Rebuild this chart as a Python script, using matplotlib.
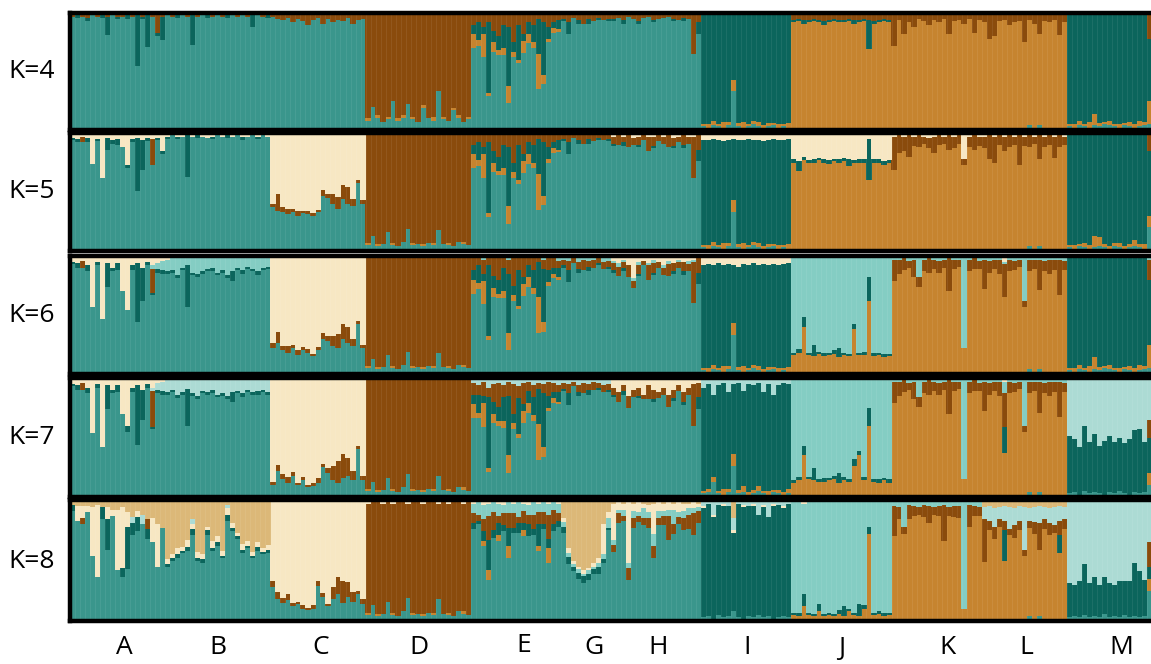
import sys
import numpy as np
import matplotlib
matplotlib.use('Agg')
import matplotlib.pyplot as plt
from matplotlib.transforms import blended_transform_factory

W, H = 1151, 664

# ---------------- data ----------------
pops = ['A', 'B', 'C', 'D', 'E', 'G', 'H', 'I', 'J', 'K', 'L', 'M']
n_ind = [19, 21, 19, 21, 18, 10, 18, 18, 20, 18, 17, 17]

colors = {'T': '#3a968c', 'DT': '#0b655c', 'BR': '#8a4b0c', 'OR': '#c6842f',
          'CR': '#f7e7c3', 'LT': '#84cdc3', 'LT2': '#acdbd4', 'TN': '#dcb878'}

# membership (%) of minor clusters per individual; the main cluster takes the rest
# --- K=4
A4_BR = [3,2,3,4,2,3,2,3,2,3,3,2,3,2,3,2,3,17,3]
A4_DT = [0,2,0,3,0,0,2,16,0,2,0,3,0,43,2,27,0,3,20]
B4_BR = [2,3,2,2,3,2,3,2,2,3,2,3,2,2,3,2,3,2,2,3,2]
B4_DT = [0,0,2,0,0,25,0,0,2,0,0,0,2,0,0,0,0,10,0,0,2]
C4_BR = [3,5,6,4,8,5,7,10,6,4,9,5,8,6,7,4,9,6,5]
D4_T = [8,20,10,7,9,25,8,10,22,9,7,19,10,8,33,9,8,17,10,7,9]
D4_OR = [2,0,3,0,2,0,2,3,0,2,0,2,0,3,0,2,0,2,3,0,2]
E_BR = [10,8,12,8,15,20,10,12,25,10,18,8,10,5,8,12,8,6]
E_DT = [8,15,6,60,10,12,20,50,8,30,6,10,15,30,45,10,5,8]
E_OR = [12,5,20,3,8,4,6,15,5,3,10,8,5,30,8,3,4,2]
G_BR = [5,8,4,6,9,5,7,4,6,5]
G_DT = [2,10,0,3,0,4,0,2,0,2]
H4_BR = [5,4,6,3,5,7,4,3,6,5,4,3,5,6,4,5,35,8]
H_DT = [2,0,3,0,0,2,0,0,2,0,0,0,2,0,3,0,0,10]
I_T = [3,2,4,3,2,4,33,3,2,3,5,3,2,3,4,2,3,2]
I_OR = [2,3,4,2,5,3,10,3,5,2,3,4,2,3,2,3,2,4]
J4_BR = [6,5,6,6,5,6,7,6,5,6,6,5,6,6,5,6,7,6,5,6]
J4_DT = [2,2,3,2,2,2,3,2,2,2,2,2,3,2,2,25,2,2,2,2]
K4_BR = [28,6,18,8,12,5,7,10,6,8,5,18,7,6,9,5,17,6]
L4_BR = [8,22,20,7,6,10,8,7,25,6,9,18,7,8,6,19,8]
L_T = [0,0,0,0,0,0,0,0,0,4,0,4,0,0,0,0,0]
M_T = [3,2,4,3,2,4,3,5,4,3,2,4,3,2,3,4,5]
M_OR = [2,3,4,2,5,10,3,2,4,2,3,2,4,3,5,3,20]
M4_BR = [0,0,0,0,0,0,0,0,0,0,0,0,0,0,0,0,22]
# --- K=5
A5_CR = [4,5,3,4,26,5,38,4,6,5,12,27,5,4,6,4,5,4,15]
A5_DT = [2,3,0,4,0,2,0,10,3,5,0,3,3,45,25,3,0,2,3]
A5_BR = [0,0,5,0,0,0,0,0,0,0,0,0,0,0,0,0,22,0,0]
B5_CR = [3,2,3,3,2,3,2,3,4,3,2,3,2,3,2,3,3,2,3,2,3]
B5_DT = [2,0,2,0,35,0,2,0,0,2,0,0,2,0,0,3,0,0,2,0,0]
C5_T = [37,34,33,31,33,30,32,31,30,33,47,45,40,36,44,40,38,58,40]
C5_BR = [3,14,4,5,3,4,2,3,2,2,5,3,8,10,12,14,6,2,3]
D5_T = [5,13,4,6,16,5,4,8,19,5,6,4,7,5,18,6,5,4,8,6,5]
D5_OR = [2,0,2,0,0,2,0,0,0,2,0,2,0,2,0,0,2,0,0,2,0]
H5_BR = [6,8,5,10,6,7,4,12,8,5,6,10,7,5,8,6,35,12]
H5_CR = [3,2,3,2,4,3,2,3,3,2,3,2,4,3,2,3,3,2]
I5_CR = [6,6,5,6,7,6,5,6,6,5,6,6,7,6,5,6,6,5]
J5_CR = [22,24,20,23,22,21,22,23,22,22,21,22,23,22,22,5,22,22,24,23]
J5_DT = [3,8,3,2,3,2,3,3,2,3,3,6,2,3,3,35,3,3,3,2]
K5_BR = [28,15,12,18,8,10,6,9,14,8,6,12,10,7,5,9,12,8]
K5_CR = [3,2,3,2,3,2,3,4,3,2,3,2,3,2,22,3,2,3]
L5_BR = [10,20,22,8,12,10,7,25,8,10,6,20,9,8,18,10,7]
L5_CR = [3,2,3,2,3,2,3,2,3,2,3,2,3,2,3,2,3]
M5_T = [3,2,4,3,2,3,4,3,2,4,3,2,3,4,3,2,20]
M5_OR = [2,3,2,4,3,10,8,3,2,3,4,2,3,5,3,4,10]
M5_BR = [0,0,0,0,0,0,0,0,0,0,0,0,0,0,0,0,15]
# --- K=6
A6_CR = [5,6,4,8,43,5,53,6,10,6,30,46,8,6,10,5,8,6,4]
A6_DT = [2,4,0,5,0,3,0,20,3,6,0,0,4,50,28,3,2,3,3]
A6_BR = [0,0,6,0,0,0,0,0,0,0,0,0,0,0,0,0,20,0,0]
A6_LT = [0,0,0,0,0,0,0,0,0,0,0,0,0,0,0,0,3,5,8]
B6_LT = [10,12,14,10,8,12,15,13,11,10,14,12,16,13,10,12,9,11,13,10,9]
B6_DT = [2,2,3,2,35,2,3,2,2,3,2,2,3,8,2,3,2,2,3,2,2]
B6_CR = [3,0,2,0,0,2,0,0,0,0,0,0,0,0,0,0,0,0,0,0,0]
C6_T = [22,26,20,18,22,16,20,18,15,20,30,28,24,22,30,26,24,42,22]
C6_BR = [4,10,4,6,3,4,3,3,2,3,5,4,8,12,12,14,6,3,3]
E6_LT = [2,0,3,0,2,0,0,3,0,2,0,0,2,0,3,0,2,4]
G6_LT = [3,4,2,5,3,4,3,2,5,4]
H6_CR = [4,6,3,8,19,5,4,6,3,5,8,4,6,3,5,4,3,2]
H6_LT = [2,3,2,0,2,3,0,2,3,0,2,3,0,2,0,3,2,0]
I6_CR = [8,7,8,6,8,7,8,9,7,8,6,8,7,8,7,8,7,6]
J6_OR = [16,18,40,16,15,17,15,16,17,14,16,15,38,16,16,62,15,16,14,15]
J6_DT = [2,3,8,2,10,2,3,2,3,8,2,2,4,2,3,20,3,2,3,2]
K6_BR = [18,12,10,6,15,8,10,12,8,10,7,28,8,6,0,10,9,7]
K6_LT = [3,3,2,4,3,18,3,2,3,4,3,2,3,3,78,3,2,4]
L6_BR = [25,10,8,12,28,10,8,6,5,10,8,26,9,12,9,30,8]
L6_LT = [3,4,3,3,2,3,4,3,38,3,3,3,4,3,3,3,4]
L6_CR = [0,0,0,0,5,0,0,0,0,0,0,0,0,0,0,0,0]
M6_BR = [0,0,0,0,0,0,0,0,0,0,0,0,0,0,0,0,17]
M6_LT = [2,0,2,0,0,2,0,0,2,0,0,2,0,0,2,0,3]
# --- K=7
A7_CR = [5,6,4,8,46,5,58,6,10,6,30,40,8,6,10,5,8,4,3]
A7_DT = [2,4,0,5,0,3,0,20,3,6,0,5,4,50,25,3,2,3,3]
A7_BR = [0,0,6,0,0,0,0,0,0,0,0,0,0,0,0,0,30,0,0]
A7_LT2 = [0,0,0,0,0,0,0,0,0,0,0,0,0,0,0,0,3,6,8]
B7_LT2 = [12,10,14,12,9,13,15,11,12,10,14,13,15,12,11,13,10,12,11,10,12]
B7_DT = [2,2,3,2,31,2,3,2,2,3,2,2,3,8,2,3,2,2,3,2,2]
C7_T = [10,22,15,12,18,10,14,8,9,12,25,20,14,12,16,18,14,40,14]
C7_BR = [3,5,4,5,3,2,3,2,3,4,3,4,12,18,20,15,8,3,4]
E7_LT2 = [4,6,3,8,5,4,6,3,5,7,4,3,6,4,5,3,4,6]
G7_LT2 = [4,5,3,6,4,5,3,4,6,5]
H7_CR = [8,12,6,15,10,8,14,6,10,12,8,14,10,6,12,8,5,4]
I7_LT2 = [8,5,14,6,4,12,5,4,11,5,6,4,12,5,14,6,4,5]
I7_T = [3,4,13,3,2,4,26,3,4,2,3,5,3,2,4,3,2,3]
J7_OR = [12,14,35,15,14,13,13,14,15,12,14,13,26,35,14,60,13,12,14,12]
J7_DT = [2,3,8,2,10,2,3,2,3,8,3,2,6,4,3,15,2,3,2,3]
K7_LT = [3,3,2,4,3,16,3,2,3,4,3,2,3,3,85,3,2,4]
L7_LT = [3,4,3,3,10,3,4,3,40,3,3,3,4,3,3,3,4]
L7_DT = [0,0,0,0,22,0,0,0,0,0,0,0,0,0,0,0,0]
L7_CR = [0,0,0,0,3,0,0,0,0,0,0,0,0,0,0,0,0]
M7_DT = [48,45,40,55,43,49,40,45,47,43,45,42,47,52,54,42,30]
M7_T = [3,4,2,5,3,4,3,2,4,3,5,3,2,4,3,4,10]
M7_OR = [0,0,0,0,0,0,0,0,0,0,0,0,0,0,0,0,10]
M7_BR = [0,0,0,0,0,0,0,0,0,0,0,0,0,0,0,0,15]
# --- K=8
A8_DT = [5,0,0,0,0,0,10,25,0,0,8,35,10,12,0,8,0,0,0]
A8_BR = [0,0,5,0,0,0,0,0,0,0,0,0,0,0,0,8,0,0,0]
A8_CR = [0,12,10,5,40,60,0,10,5,50,50,12,0,5,0,0,20,35,0]
A8_TN = [4,5,5,5,6,4,6,6,8,8,6,10,14,9,12,16,15,20,23]
A8_LT2 = [0,0,0,0,0,0,0,0,0,0,0,0,5,0,8,0,0,0,0]
B8_T = [45,50,52,56,58,71,50,48,71,58,62,52,83,74,68,56,60,52,58,55,56]
B8_DT = [2,2,3,2,3,5,2,3,4,2,3,2,5,3,2,3,2,2,3,2,3]
B8_CR = [4,3,5,3,6,4,5,4,3,6,5,4,5,4,3,5,4,3,4,3,4]
B8_LT2 = [0,0,0,0,0,4,0,0,0,0,0,0,3,0,0,0,0,0,0,0,0]
C8_T = [28,18,15,17,12,14,10,9,10,29,20,12,18,22,15,20,16,22,14]
C8_BR = [5,6,4,5,3,2,3,2,3,4,3,2,10,14,18,12,8,3,4]
C8_TN = [2,0,2,0,0,2,0,0,0,2,0,0,0,2,0,0,0,0,2]
D8_CR = [3,2,0,3,2,3,0,2,3,2,0,3,2,0,3,2,3,0,2,3,2]
E8_DT = [5,3,8,25,6,10,5,15,4,8,6,10,5,18,4,8,6,5]
E8_OR = [0,0,4,8,0,5,0,10,0,0,5,0,0,4,0,12,0,0]
E8_BR = [8,5,10,20,15,6,10,12,12,5,10,8,12,10,10,20,12,6]
E8_LT = [8,10,12,10,8,10,7,9,8,12,6,8,10,7,8,9,6,8]
E8_CR = [3,2,4,3,2,3,4,2,3,2,3,4,2,3,2,3,2,3]
G8_TN = [15,40,50,55,58,56,52,48,20,10]
G8_DT = [5,6,4,5,6,5,4,6,3,2]
G8_CR = [3,4,3,2,3,2,3,4,25,5]
G8_LT = [4,3,2,3,2,3,2,3,4,8]
H8_CR = [30,6,5,50,6,8,4,6,25,7,6,6,5,8,6,4,5,3]
H8_BR = [6,8,4,10,8,5,6,8,10,6,8,20,8,6,10,12,18,10]
H8_LT = [4,3,5,4,6,3,8,5,10,6,4,5,12,4,6,5,4,3]
H8_TN = [3,2,3,2,3,2,3,4,3,2,3,2,3,2,3,3,2,3]
I8_LT2 = [5,3,12,4,3,5,10,3,4,5,3,12,4,14,3,4,5,3]
I8_TN = [0,0,0,0,0,0,15,0,0,0,0,0,0,0,0,0,0,0]
I8_T = [3,4,2,5,3,4,8,3,2,4,3,5,3,4,2,3,4,3]
I8_CR = [2,0,2,0,2,0,2,0,2,0,2,0,2,0,2,0,2,0]
J8_OR = [5,4,12,5,4,8,4,5,4,6,4,8,5,4,10,72,5,6,4,5]
J8_DT = [2,3,10,2,2,6,2,2,2,3,8,2,2,10,3,6,2,2,3,2]
J8_CR = [2,0,3,0,2,0,0,2,0,0,0,2,0,0,0,0,0,0,2,0]
K8_BR = [25,10,6,12,8,6,10,14,6,8,30,7,9,10,0,18,8,7]
K8_LT = [5,6,22,4,5,6,4,5,6,5,4,6,5,5,90,4,5,6]
L8_TN = [6,5,7,6,5,6,7,5,6,7,6,5,6,7,6,5,6]
L8_LT2 = [10,12,15,10,12,18,14,12,35,10,12,14,10,12,15,12,10]
L8_BR = [35,8,10,6,8,5,10,8,5,6,10,22,8,10,6,12,8]
L8_DT = [0,0,0,0,25,0,0,0,0,0,0,0,0,0,0,15,0]
M8_DT = [28,26,30,42,28,32,27,30,28,26,30,28,30,44,38,30,10]
M8_T = [3,4,3,5,3,4,3,6,3,4,3,5,3,4,3,4,25]
M8_OR = [0,0,0,0,0,0,0,0,0,0,0,0,0,0,0,0,10]
M8_BR = [0,0,0,0,0,0,0,0,0,0,0,0,0,0,0,0,20]

# ---------------- panel tables ----------------
panels = [
    ('K=4', ['T', 'OR', 'DT', 'BR'],
     ['T', 'T', 'T', 'BR', 'T', 'T', 'T', 'DT', 'OR', 'OR', 'OR', 'DT'],
     [dict(BR=A4_BR, DT=A4_DT), dict(BR=B4_BR, DT=B4_DT), dict(BR=C4_BR),
      dict(T=D4_T, OR=D4_OR), dict(BR=E_BR, DT=E_DT, OR=E_OR),
      dict(BR=G_BR, DT=G_DT), dict(BR=H4_BR, DT=H_DT), dict(T=I_T, OR=I_OR),
      dict(BR=J4_BR, DT=J4_DT), dict(BR=K4_BR), dict(BR=L4_BR, T=L_T),
      dict(T=M_T, OR=M_OR, BR=M4_BR)]),
    ('K=5', ['T', 'OR', 'DT', 'BR', 'CR'],
     ['T', 'T', 'CR', 'BR', 'T', 'T', 'T', 'DT', 'OR', 'OR', 'OR', 'DT'],
     [dict(CR=A5_CR, DT=A5_DT, BR=A5_BR), dict(CR=B5_CR, DT=B5_DT),
      dict(T=C5_T, BR=C5_BR), dict(T=D5_T, OR=D5_OR),
      dict(BR=E_BR, DT=E_DT, OR=E_OR), dict(BR=G_BR, DT=G_DT),
      dict(BR=H5_BR, CR=H5_CR, DT=H_DT), dict(T=I_T, OR=I_OR, CR=I5_CR),
      dict(CR=J5_CR, DT=J5_DT), dict(BR=K5_BR, CR=K5_CR),
      dict(BR=L5_BR, CR=L5_CR, T=L_T), dict(T=M5_T, OR=M5_OR, BR=M5_BR)]),
    ('K=6', ['T', 'OR', 'DT', 'BR', 'LT', 'CR'],
     ['T', 'T', 'CR', 'BR', 'T', 'T', 'T', 'DT', 'LT', 'OR', 'OR', 'DT'],
     [dict(CR=A6_CR, DT=A6_DT, BR=A6_BR, LT=A6_LT),
      dict(LT=B6_LT, DT=B6_DT, CR=B6_CR), dict(T=C6_T, BR=C6_BR),
      dict(T=D5_T, OR=D5_OR), dict(BR=E_BR, DT=E_DT, OR=E_OR, LT=E6_LT),
      dict(BR=G_BR, DT=G_DT, LT=G6_LT),
      dict(BR=H5_BR, CR=H6_CR, LT=H6_LT, DT=H_DT),
      dict(T=I_T, OR=I_OR, CR=I6_CR), dict(OR=J6_OR, DT=J6_DT),
      dict(BR=K6_BR, LT=K6_LT), dict(BR=L6_BR, LT=L6_LT, CR=L6_CR, T=L_T),
      dict(T=M_T, OR=M_OR, BR=M6_BR, LT=M6_LT)]),
    ('K=7', ['T', 'OR', 'DT', 'BR', 'LT', 'LT2', 'CR'],
     ['T', 'T', 'CR', 'BR', 'T', 'T', 'T', 'DT', 'LT', 'OR', 'OR', 'LT2'],
     [dict(CR=A7_CR, DT=A7_DT, BR=A7_BR, LT2=A7_LT2),
      dict(LT2=B7_LT2, DT=B7_DT), dict(T=C7_T, BR=C7_BR),
      dict(T=D5_T, OR=D5_OR), dict(BR=E_BR, DT=E_DT, OR=E_OR, LT2=E7_LT2),
      dict(BR=G_BR, DT=G_DT, LT2=G7_LT2), dict(BR=H5_BR, CR=H7_CR, DT=H_DT),
      dict(T=I7_T, OR=I_OR, LT2=I7_LT2), dict(OR=J7_OR, DT=J7_DT),
      dict(BR=K6_BR, LT=K7_LT),
      dict(BR=L6_BR, LT=L7_LT, DT=L7_DT, CR=L7_CR, T=L_T),
      dict(DT=M7_DT, T=M7_T, OR=M7_OR, BR=M7_BR)]),
    ('K=8', ['T', 'OR', 'DT', 'BR', 'LT', 'CR', 'LT2', 'TN'],
     ['T', 'TN', 'CR', 'BR', 'T', 'T', 'T', 'DT', 'LT', 'OR', 'OR', 'LT2'],
     [dict(DT=A8_DT, BR=A8_BR, CR=A8_CR, TN=A8_TN, LT2=A8_LT2),
      dict(T=B8_T, DT=B8_DT, CR=B8_CR, LT2=B8_LT2),
      dict(T=C8_T, BR=C8_BR, TN=C8_TN), dict(T=D5_T, OR=D5_OR, CR=D8_CR),
      dict(DT=E8_DT, OR=E8_OR, BR=E8_BR, LT=E8_LT, CR=E8_CR),
      dict(TN=G8_TN, DT=G8_DT, CR=G8_CR, LT=G8_LT),
      dict(CR=H8_CR, BR=H8_BR, LT=H8_LT, TN=H8_TN),
      dict(LT2=I8_LT2, TN=I8_TN, T=I8_T, CR=I8_CR),
      dict(OR=J8_OR, DT=J8_DT, CR=J8_CR), dict(BR=K8_BR, LT=K8_LT),
      dict(TN=L8_TN, LT2=L8_LT2, BR=L8_BR, DT=L8_DT, T=L_T),
      dict(DT=M8_DT, T=M8_T, OR=M8_OR, BR=M8_BR)]),
]

# ---------------- layout (pixels) ----------------
panel_y = [(13, 130), (133, 251), (256, 374), (378, 497), (500, 621)]
left_px = 70
right_px = W + 1
label_y_px = [71, 192, 316, 438, 562]
label_nudge_px = [7, 0, 3, 1, 8, 8, 2, 1, 0, 11, 2, 12]
pop_label_y_px = [648, 648, 648, 648, 646, 648, 648, 648, 648, 648, 648, 648]


def build(order, fills, parts):
    cols = {c: [] for c in order}
    for p, n, f, d in zip(pops, n_ind, fills, parts):
        dd = {}
        for c, v in d.items():
            v = list(v)
            if len(v) != n:
                sys.stderr.write('length mismatch %s %s %d\n' % (p, c, len(v)))
                v = (v + [0] * n)[:n]
            dd[c] = v
        for i in range(n):
            rest = 100 - sum(dd[c][i] for c in dd)
            for c in order:
                if c == f:
                    cols[c].append(rest)
                else:
                    cols[c].append(dd[c][i] if c in dd else 0)
    return cols


N = sum(n_ind)
x = np.arange(N)
fig = plt.figure(figsize=(W / 100, H / 100), dpi=100)
fig.patch.set_facecolor('white')

axes = []
for (label, order, fills, parts), (yt, yb), ly in zip(panels, panel_y, label_y_px):
    ax = fig.add_axes([left_px / W, 1 - yb / H, (right_px - left_px) / W, (yb - yt) / H])
    cols = build(order, fills, parts)
    bottom = np.zeros(N)
    for c in order:
        v = np.array(cols[c], dtype=float)
        ax.bar(x, v, bottom=bottom, width=1.06, color=colors[c], linewidth=0,
               antialiased=False, align='center')
        bottom += v
    # faint separators between individuals
    ax.vlines(x[1:] - 0.5, 0, 100, colors='white', alpha=0.10, linewidth=0.5)
    ax.set_xlim(-0.5, N - 0.5)
    ax.set_ylim(0, 100)
    ax.set_xticks([])
    ax.set_yticks([])
    for s in ['top', 'bottom', 'left']:
        ax.spines[s].set_linewidth(3.2)
        ax.spines[s].set_color('black')
    ax.spines['right'].set_visible(False)
    fig.text(32 / W, 1 - ly / H, label, ha='center', va='center',
             fontsize=19, family=['Open Sans', 'DejaVu Sans'], color='black')
    axes.append(ax)

ax8 = axes[-1]
trans = blended_transform_factory(ax8.transData, fig.transFigure)
px_per_ind = (right_px - left_px) / N
start = 0
for p, n, nud, yy in zip(pops, n_ind, label_nudge_px, pop_label_y_px):
    cx = start + n / 2 - 0.5 + nud / px_per_ind
    ax8.text(cx, 1 - yy / H, p, transform=trans, ha='center', va='center',
             fontsize=19, family=['Open Sans', 'DejaVu Sans'], color='black',
             clip_on=False)
    start += n

fig.savefig('out.png', dpi=100)
